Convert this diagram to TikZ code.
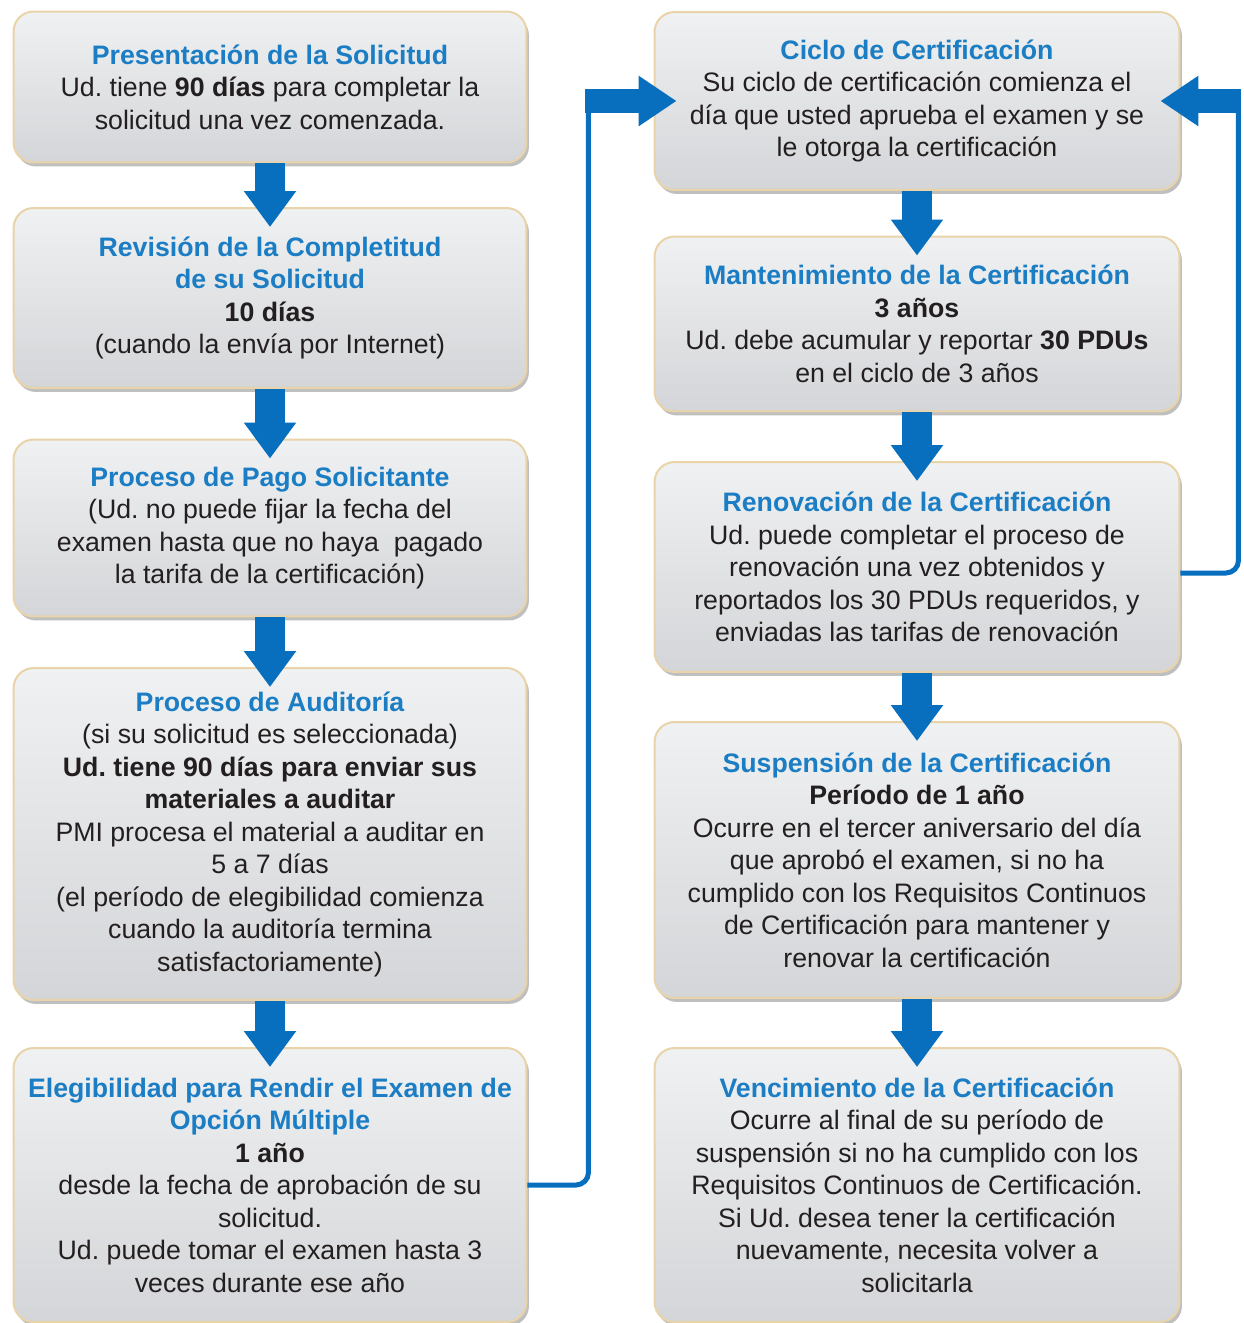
\documentclass[tikz,border=0pt]{standalone}
\usepackage{fontspec}
\setmainfont{Liberation Sans}
\usetikzlibrary{arrows.meta}
\usetikzlibrary{shadows}
\definecolor{azul}{RGB}{27,125,196}
\definecolor{flecha}{RGB}{8,110,190}
\definecolor{borde}{RGB}{233,211,168}
\definecolor{grisa}{RGB}{240,241,242}
\definecolor{grisb}{RGB}{212,213,216}
\definecolor{tinta}{RGB}{35,31,32}
\newcommand{\titulo}[1]{{\color{azul}\bfseries #1}}
\frenchspacing

\begin{document}
\begin{tikzpicture}[x=0.02cm, y=-0.02cm,
  caja/.style={draw=borde, line width=0.04cm, rounded corners=0.4cm, top color=grisa, bottom color=grisb,
    drop shadow={shadow xshift=0.05cm, shadow yshift=-0.08cm, fill=black, opacity=0.25},
    align=center, text=tinta, font=\fontsize{15.2}{18.5}\selectfont, inner sep=0pt},
  izq/.style={caja, minimum width=10.26cm},
  der/.style={caja, minimum width=10.5cm},
  baja/.style={draw=flecha, line width=0.6cm, -{Triangle[width=1cm, length=0.72cm]}},
  enlace/.style={draw=flecha, line width=0.1cm, rounded corners=0.25cm},
  vuelta/.style={draw=flecha, line width=0.48cm, -{Triangle[width=0.96cm, length=0.76cm]}}]
\useasboundingbox (0,0) rectangle (1244,1323);
\node[izq, minimum height=3.02cm] (sol) at (270,87) {\titulo{Presentación de la Solicitud}\\
  Ud. tiene \textbf{90 días} para completar la\\ solicitud una vez comenzada.};
\node[izq, minimum height=3.6cm] (rev) at (270,298) {\titulo{Revisión de la Completitud}\\ \titulo{de su Solicitud}\\
  \textbf{10 días}\\ (cuando la envía por Internet)};
\node[izq, minimum height=3.54cm] (pago) at (270,528) {\titulo{Proceso de Pago Solicitante}\\
  (Ud. no puede fijar la fecha del\\ examen hasta que no haya \ pagado\\ la tarifa de la certificación)};
\node[izq, minimum height=6.64cm] (audit) at (270,834) {\titulo{Proceso de Auditoría}\\
  (si su solicitud es seleccionada)\\ \textbf{Ud. tiene 90 días para enviar sus}\\ \textbf{materiales a auditar}\\
  PMI procesa el material a auditar en\\ 5 a 7 días\\ (el período de elegibilidad comienza\\
  cuando la auditoría termina\\ satisfactoriamente)};
\node[izq, minimum height=5.48cm] (eleg) at (270,1185) {\titulo{Elegibilidad para Rendir el Examen de}\\ \titulo{Opción Múltiple}\\
  \textbf{1 año}\\ desde la fecha de aprobación de su\\ solicitud.\\ Ud. puede tomar el examen hasta 3\\ veces durante ese año};
\node[der, minimum height=3.56cm] (ciclo) at (917,101) {\titulo{Ciclo de Certificación}\\
  Su ciclo de certificación comienza el\\ día que usted aprueba el examen y se\\ le otorga la certificación};
\node[der, minimum height=3.5cm] (mant) at (917,324) {\titulo{Mantenimiento de la Certificación}\\
  \textbf{3 años}\\ Ud. debe acumular y reportar \textbf{30 PDUs}\\ en el ciclo de 3 años};
\node[der, minimum height=4.2cm] (renov) at (917,567) {\titulo{Renovación de la Certificación}\\
  Ud. puede completar el proceso de\\ renovación una vez obtenidos y\\ reportados los 30 PDUs requeridos, y\\ enviadas las tarifas de renovación};
\node[der, minimum height=5.52cm] (susp) at (917,860) {\titulo{Suspensión de la Certificación}\\
  \textbf{Período de 1 año}\\ Ocurre en el tercer aniversario del día\\ que aprobó el examen, si no ha\\
  cumplido con los Requisitos Continuos\\ de Certificación para mantener y\\ renovar la certificación};
\node[der, minimum height=5.48cm] (venc) at (917,1185) {\titulo{Vencimiento de la Certificación}\\
  Ocurre al final de su período de\\ suspensión si no ha cumplido con los\\ Requisitos Continuos de Certificación.\\
  Si Ud. desea tener la certificación\\ nuevamente, necesita volver a\\ solicitarla};
\draw[baja] (sol.south) -- ([yshift=-0.4cm]rev.north);
\draw[baja] (rev.south) -- ([yshift=-0.4cm]pago.north);
\draw[baja] (pago.south) -- ([yshift=-0.4cm]audit.north);
\draw[baja] (audit.south) -- ([yshift=-0.4cm]eleg.north);
\draw[baja] (ciclo.south) -- ([yshift=-0.4cm]mant.north);
\draw[baja] (mant.south) -- ([yshift=-0.4cm]renov.north);
\draw[baja] (renov.south) -- ([yshift=-0.4cm]susp.north);
\draw[baja] (susp.south) -- ([yshift=-0.4cm]venc.north);
\path (eleg.east) ++(61,0) coordinate (codo);
\coordinate (codoa) at (codo |- ciclo.west);
\draw[enlace] (eleg.east) -| (codoa);
\draw[vuelta] ([xshift=-0.06cm]codoa) -- ([xshift=0.46cm]ciclo.west);
\path (renov.east) ++(58,0) coordinate (codob);
\coordinate (codoc) at (codob |- ciclo.east);
\draw[enlace] ([yshift=-0.12cm]renov.east) -| (codoc);
\draw[vuelta] ([xshift=0.06cm]codoc) -- ([xshift=-0.4cm]ciclo.east);
\end{tikzpicture}
\end{document}
